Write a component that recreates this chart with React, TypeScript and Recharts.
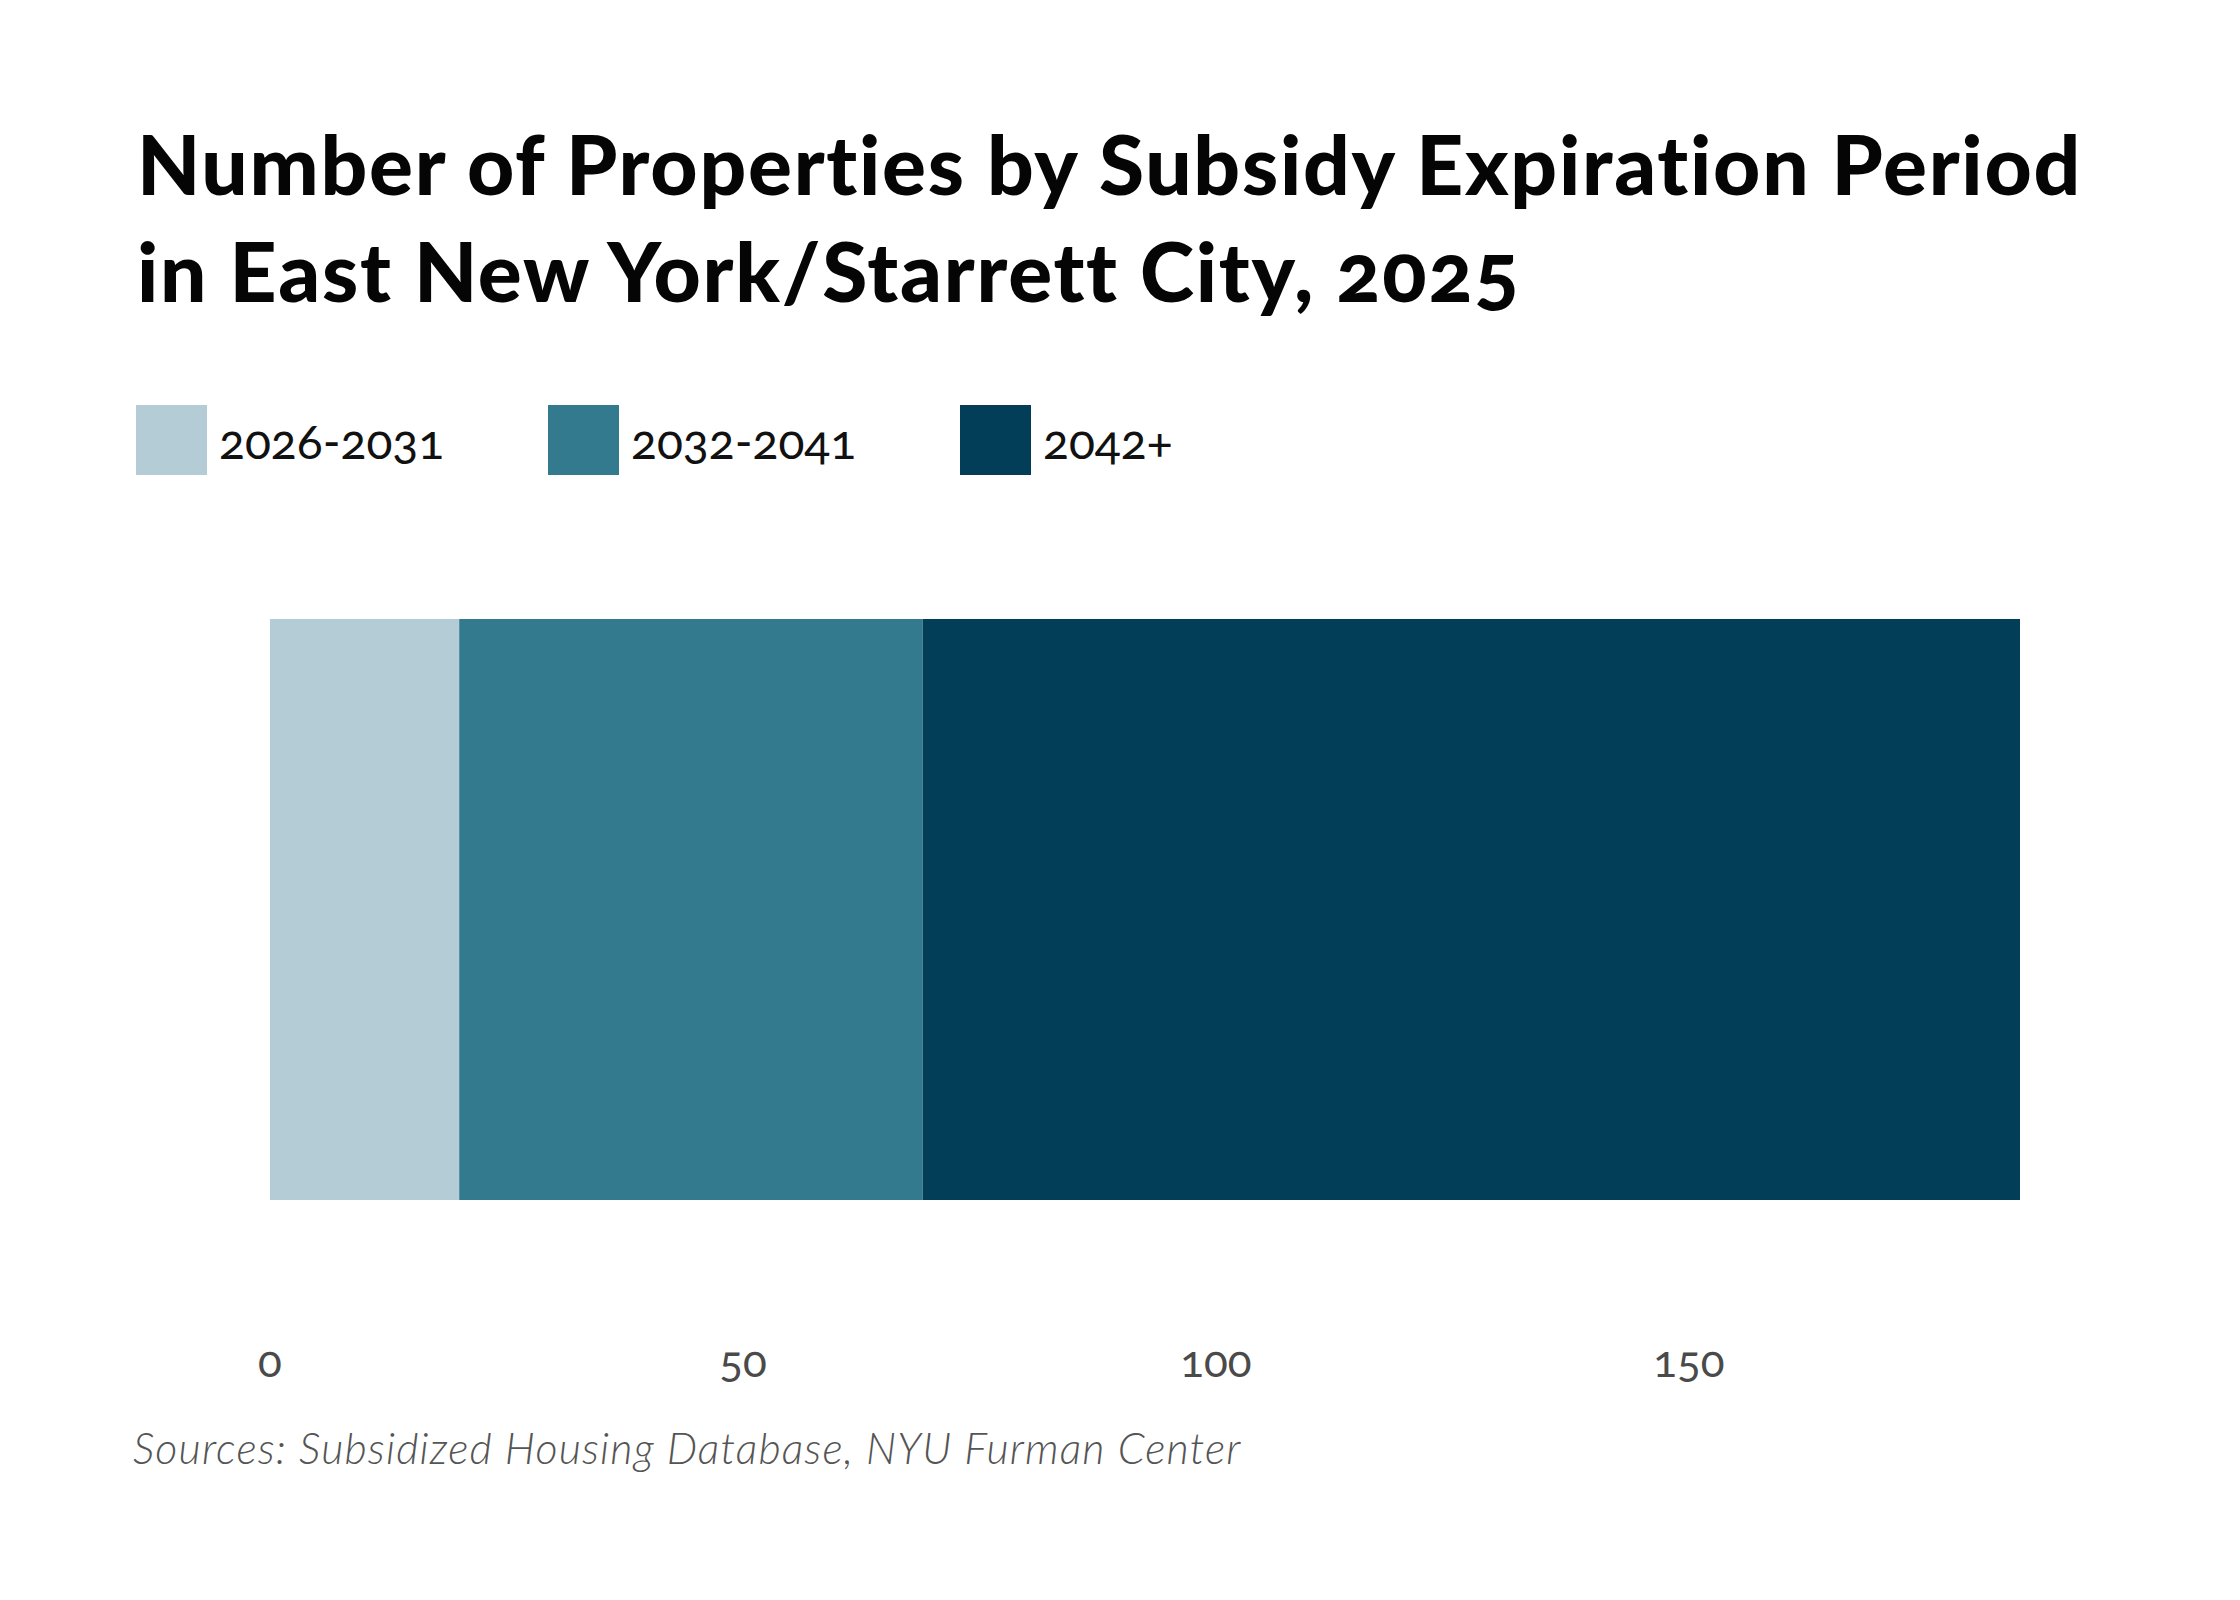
import React from 'react'
import { BarChart, Bar, XAxis, YAxis, Legend } from 'recharts'

const categories = ['East New York/Starrett City']
const series = ['2026-2031', '2032-2041', '2042+']
const values2026to2031 = [20]
const values2032to2041 = [49]
const values2042plus = [116]
const xTicks = [0, 50, 100, 150]

const colors = ['#b3ccd6', '#347a8f', '#023e58']

const data = categories.map((name, i) => ({
  name,
  [series[0]]: values2026to2031[i],
  [series[1]]: values2032to2041[i],
  [series[2]]: values2042plus[i],
}))

const font = 'Lato, "Open Sans", sans-serif'

function LegendContent({ payload }: any) {
  return (
    <div style={{ display: 'flex', fontFamily: font }}>
      {(payload || []).map((p: any) => (
        <div key={p.value} style={{ display: 'flex', alignItems: 'center', width: 412 }}>
          <div style={{ width: 71, height: 70, background: p.color }} />
          <span
            style={{
              marginLeft: 12,
              fontSize: 48,
              color: '#111',
              fontVariantNumeric: 'oldstyle-nums',
            }}
          >
            {p.value}
          </span>
        </div>
      ))}
    </div>
  )
}

export default function App() {
  return (
    <div style={{ position: 'absolute', left: 0, top: 0, width: 2240, height: 1600, background: '#fff' }}>
      <div
        style={{
          position: 'absolute',
          left: 137,
          top: 110,
          fontFamily: font,
          fontWeight: 900,
          fontSize: 82,
          lineHeight: '107px',
          letterSpacing: 1.75,
          color: '#050505',
          fontVariantNumeric: 'oldstyle-nums',
          fontVariantLigatures: 'none',
          whiteSpace: 'nowrap',
        }}
      >
        Number of Properties by Subsidy Expiration Period
        <br />
        in East New York/Starrett City, 2025
      </div>
      <div style={{ position: 'absolute', left: 0, top: 0 }}>
        <BarChart
          width={2240}
          height={1600}
          data={data}
          layout="vertical"
          margin={{ top: 619, right: 220, bottom: 370, left: 270 }}
          barCategoryGap={0}
        >
          <XAxis
            type="number"
            domain={[0, 185]}
            ticks={xTicks}
            axisLine={false}
            tickLine={false}
            height={30}
            tickMargin={140}
            tick={{ fontSize: 44, fill: '#4a4a4a', fontFamily: font, style: { fontVariantNumeric: 'oldstyle-nums' } }}
          />
          <YAxis type="category" dataKey="name" hide width={0} />
          <Legend
            layout="horizontal"
            verticalAlign="middle"
            align="center"
            wrapperStyle={{ left: 136, top: 405, width: 1500 }}
            content={<LegendContent />}
          />
          {series.map((s, i) => (
            <Bar key={s} dataKey={s} stackId="a" fill={colors[i]} isAnimationActive={false} />
          ))}
        </BarChart>
      </div>
      <div
        style={{
          position: 'absolute',
          left: 133,
          top: 1422,
          fontFamily: font,
          fontStyle: 'italic',
          fontWeight: 300,
          fontSize: 43,
          letterSpacing: 1.15,
          color: '#555',
          whiteSpace: 'nowrap',
        }}
      >
        Sources: Subsidized Housing Database, NYU Furman Center
      </div>
    </div>
  )
}
